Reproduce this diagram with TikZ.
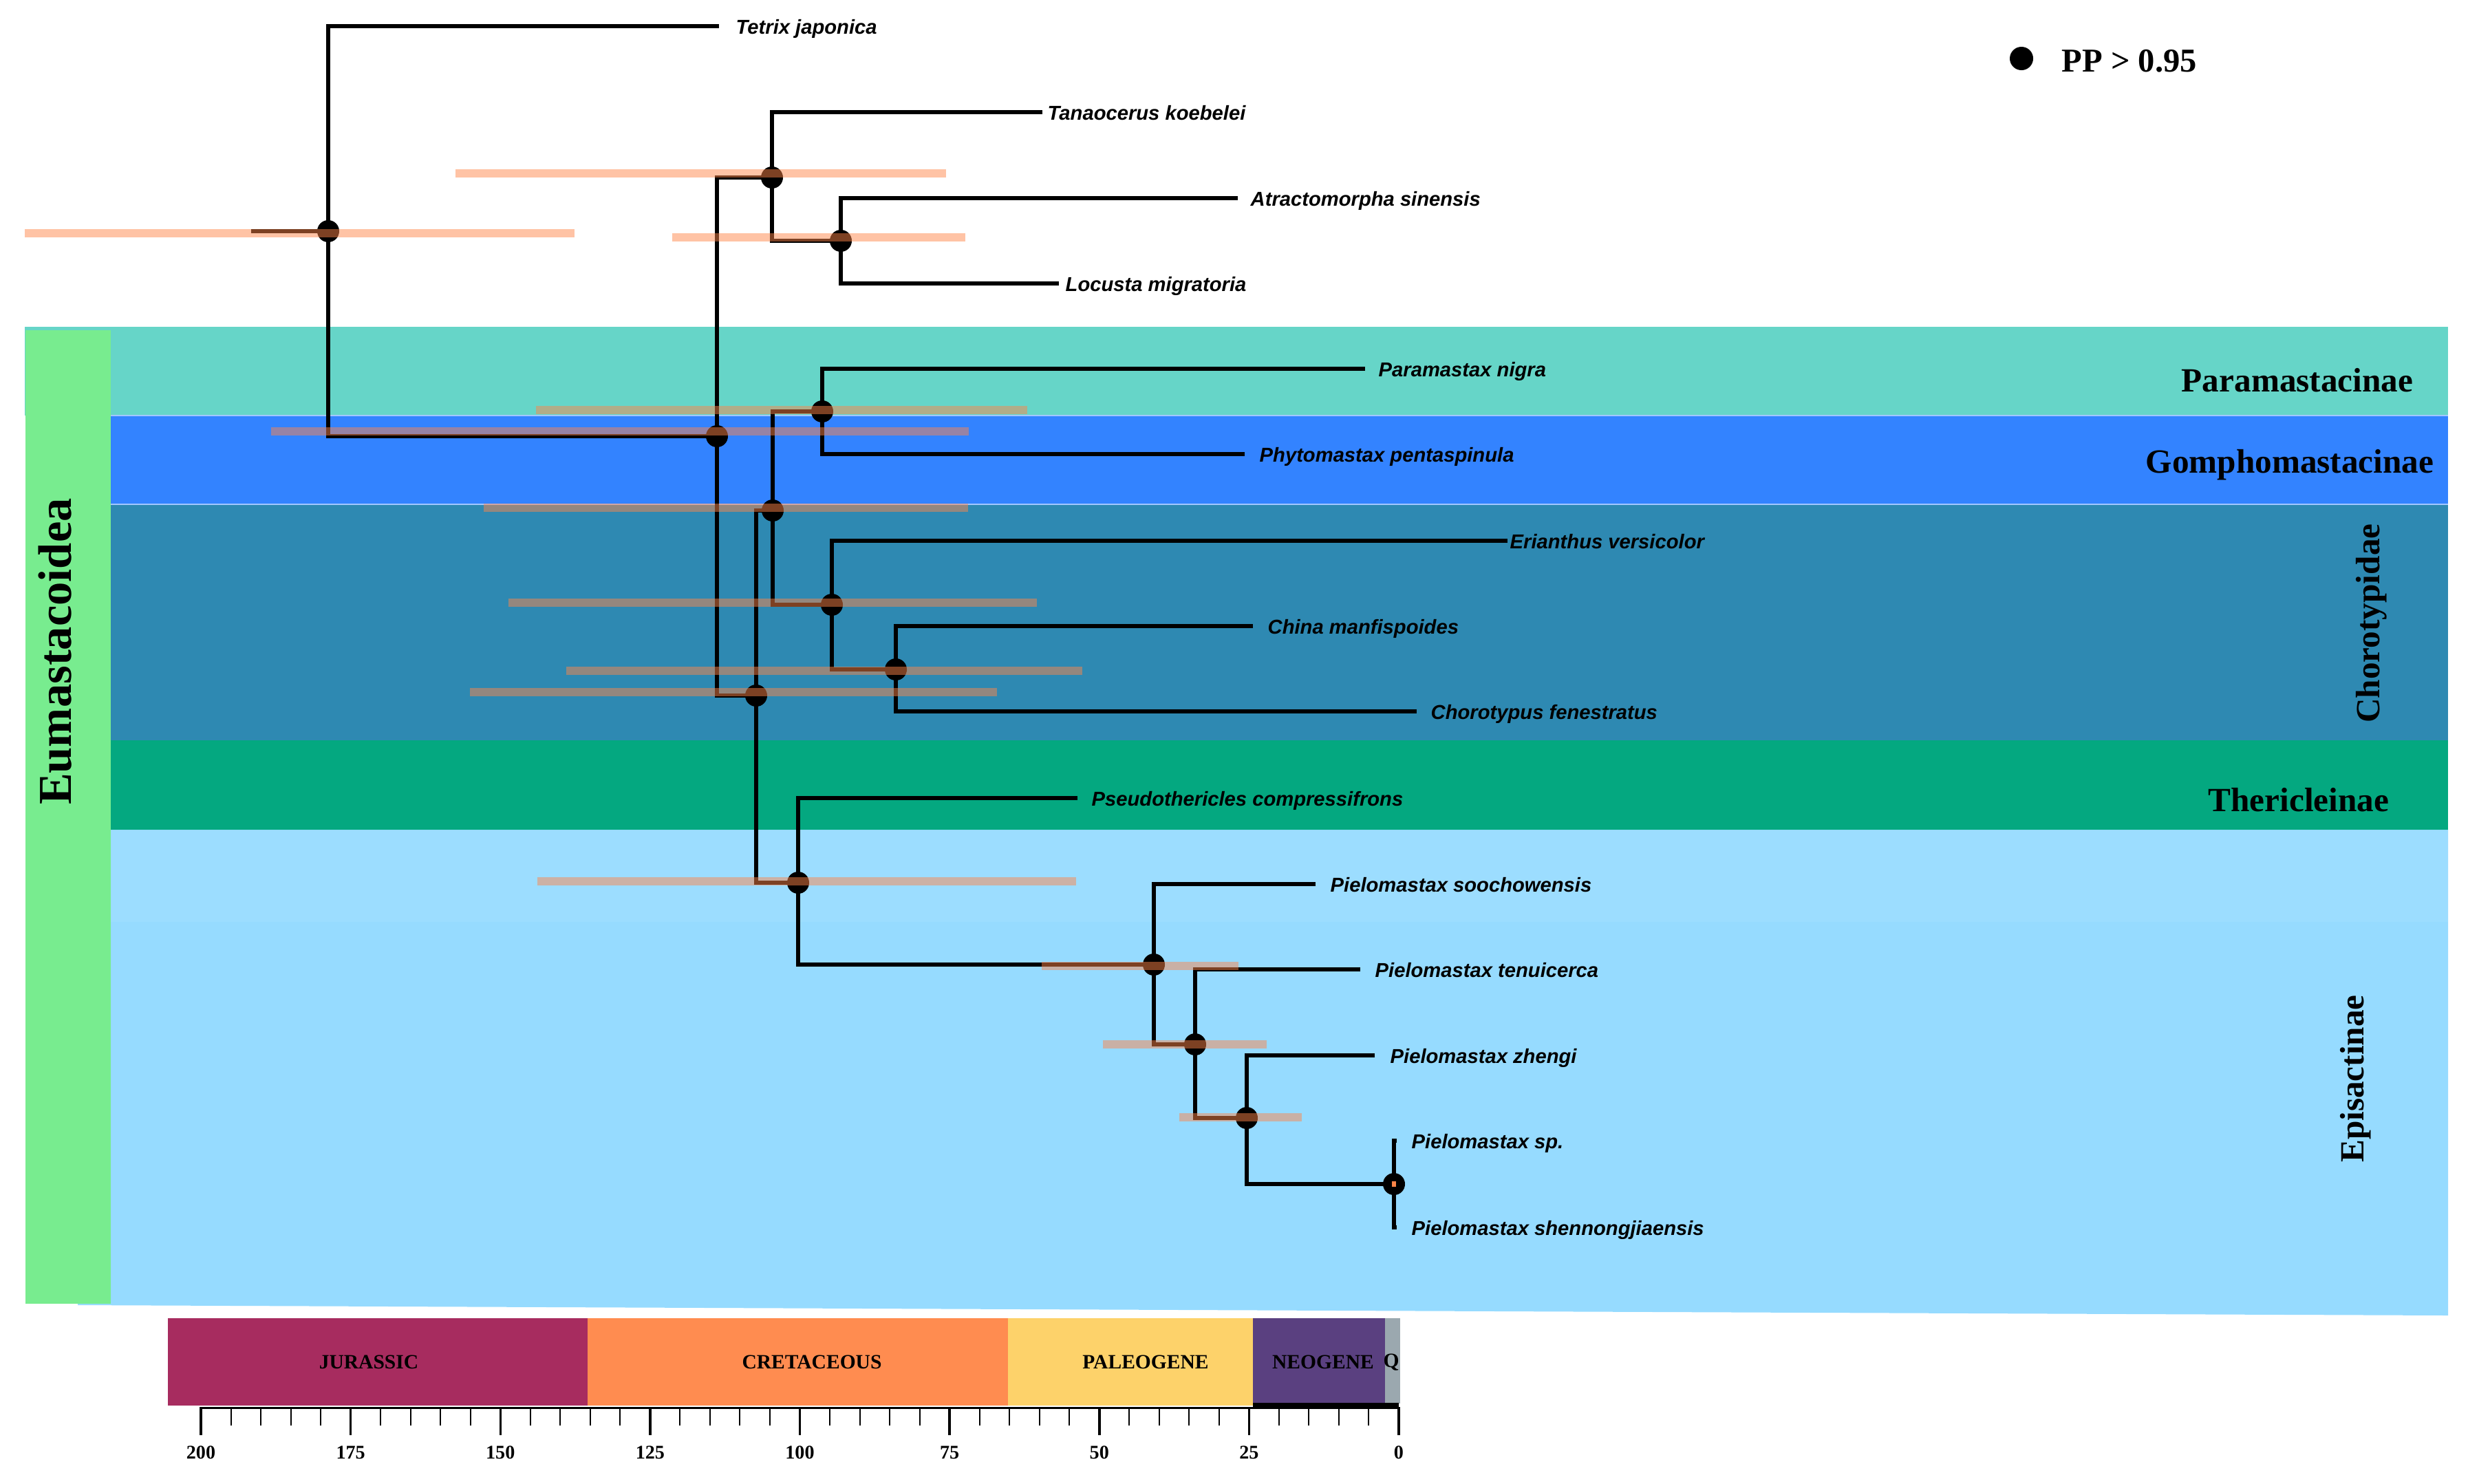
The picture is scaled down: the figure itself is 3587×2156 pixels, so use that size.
\documentclass[tikz,border=0pt]{standalone}
\usepackage{fontspec}
\setmainfont{Liberation Serif}
\setsansfont{Liberation Sans}

\definecolor{para}{HTML}{66D5C8}
\definecolor{gompho}{HTML}{3383FF}
\definecolor{choro}{HTML}{2E89B2}
\definecolor{theri}{HTML}{04A880}
\definecolor{epis}{HTML}{96DBFF}
\definecolor{eumas}{HTML}{78EC8F}
\definecolor{hpdc}{RGB}{255,133,72}
\definecolor{jur}{HTML}{A72C5F}
\definecolor{cret}{HTML}{FF8C50}
\definecolor{paleo}{HTML}{FDD26A}
\definecolor{neo}{HTML}{5A4080}
\definecolor{quat}{HTML}{9BA8AF}

\begin{document}
\begin{tikzpicture}[x=0.01cm,y=-0.01cm,
  branch/.style={line width=1.7pt,black},
  hpd/.style={line width=0.12cm,hpdc,opacity=.49},
  pp/.style={fill=black},
  tiplab/.style={anchor=base west,inner sep=0pt,font=\sffamily\bfseries\itshape\fontsize{8.3}{10}\selectfont},
  cladelab/.style={inner sep=0pt,font=\bfseries\fontsize{14}{16}\selectfont},
  period/.style={inner sep=0pt,font=\bfseries\fontsize{8.4}{10}\selectfont}]

\useasboundingbox (0,0) rectangle (3587,2156);

% clade bands
\fill[para] (36,475) rectangle (3558,604);
\fill[gompho] (161,604) rectangle (3558,733);
\fill[choro] (161,733) rectangle (3558,1076);
\fill[theri] (161,1076) rectangle (3558,1206);
\fill[epis] (113,1206) -- (3558,1206) -- (3558,1912) -- (113,1897) -- cycle;
\fill[white!6!epis] (161,1207) rectangle (3558,1340);
\draw[line width=0.02cm,white!55!gompho] (161,604) -- (3558,604);
\draw[line width=0.02cm,white!55!gompho] (161,733) -- (3558,733);
\fill[eumas] (37,480) rectangle (161,1895);
\node[rotate=90,inner sep=0pt,font=\bfseries\fontsize{19.5}{22}\selectfont] (eumas) at (80,947) {Eumastacoidea};

\node[cladelab] (para) at (3339,553) {Paramastacinae};
\node[cladelab] (gompho) at (3328,676) {Gomphomastacinae};
\node[cladelab,rotate=90] (choro) at (3447,906) {Chorotypidae};
\node[cladelab] (theri) at (3341,1163) {Thericleinae};
\node[cladelab,rotate=90] (epis) at (3424,1568) {Episactinae};

% legend
\fill[pp] (2938,85) circle (0.17cm);
\node[anchor=base west,inner sep=0pt,font=\bfseries\fontsize{13.8}{16}\selectfont] (pplab) at (2996,104) {PP > 0.95};

% internal nodes
\coordinate (nR) at (477,336);
\coordinate (stem) at (365,336);
\coordinate (nA) at (1042,634);
\coordinate (nB) at (1122,258);
\coordinate (nC) at (1222,350);
\coordinate (nD) at (1099,1011);
\coordinate (nE) at (1123,742);
\coordinate (nF) at (1195,598);
\coordinate (nG) at (1209,879);
\coordinate (nH) at (1302,973);
\coordinate (nI) at (1160,1283);
\coordinate (nJ) at (1677,1402);
\coordinate (nK) at (1737,1518);
\coordinate (nL) at (1812,1625);
\coordinate (nM) at (2026,1721);

% tips
\coordinate (t1) at (1045,38);
\coordinate (t2) at (1515,163);
\coordinate (t3) at (1799,288);
\coordinate (t4) at (1539,412);
\coordinate (t5) at (1984,536);
\coordinate (t6) at (1809,660);
\coordinate (t7) at (2191,786);
\coordinate (t8) at (1821,910);
\coordinate (t9) at (2059,1034);
\coordinate (t10) at (1566,1160);
\coordinate (t11) at (1912,1285);
\coordinate (t12) at (1977,1409);
\coordinate (t13) at (1998,1534);
\coordinate (t14) at (2030,1658);
\coordinate (t15) at (2030,1784);

\node[tiplab] (l1) at (1069,49) {Tetrix japonica};
\node[tiplab] (l2) at (1522,174) {Tanaocerus koebelei};
\node[tiplab] (l3) at (1817,299) {Atractomorpha sinensis};
\node[tiplab] (l4) at (1548,423) {Locusta migratoria};
\node[tiplab] (l5) at (2003,547) {Paramastax nigra};
\node[tiplab] (l6) at (1830,671) {Phytomastax pentaspinula};
\node[tiplab] (l7) at (2194,797) {Erianthus versicolor};
\node[tiplab] (l8) at (1842,921) {China manfispoides};
\node[tiplab] (l9) at (2079,1045) {Chorotypus fenestratus};
\node[tiplab] (l10) at (1586,1171) {Pseudothericles compressifrons};
\node[tiplab] (l11) at (1933,1296) {Pielomastax soochowensis};
\node[tiplab] (l12) at (1998,1420) {Pielomastax tenuicerca};
\node[tiplab] (l13) at (2020,1545) {Pielomastax zhengi};
\node[tiplab] (l14) at (2051,1669) {Pielomastax sp.};
\node[tiplab] (l15) at (2051,1795) {Pielomastax shennongjiaensis};

% tree
\draw[branch] (nR) -- (stem);
\draw[branch] (t1) -| (nR) |- (nA);
\draw[branch] (nB) -| (nA) |- (nD);
\draw[branch] (t2) -| (nB) |- (nC);
\draw[branch] (t3) -| (nC) |- (t4);
\draw[branch] (nE) -| (nD) |- (nI);
\draw[branch] (nF) -| (nE) |- (nG);
\draw[branch] (t5) -| (nF) |- (t6);
\draw[branch] (t7) -| (nG) |- (nH);
\draw[branch] (t8) -| (nH) |- (t9);
\draw[branch] (t10) -| (nI) |- (nJ);
\draw[branch] (t11) -| (nJ) |- (nK);
\draw[branch] (t12) -| (nK) |- (nL);
\draw[branch] (t13) -| (nL) |- (nM);
\draw[branch] (t14) -| (nM) |- (t15);

\foreach \n in {nR,nA,nB,nC,nD,nE,nF,nG,nH,nI,nJ,nK,nL,nM}
  \fill[pp] (\n) circle (0.16cm);

% 95% HPD bars
\foreach \y/\a/\b in {339/36/835, 252/662/1375, 345/977/1403, 596/779/1493,
  627/394/1408, 738/703/1407, 876/739/1507, 975/823/1573, 1006/683/1449,
  1281/781/1564, 1404/1514/1800, 1518/1603/1841, 1624/1714/1892}
  \draw[hpd] (\a,\y) -- (\b,\y);
\fill[hpdc] (2023,1717) rectangle (2029,1725);

% geological time scale
\fill[jur] (244,1916) rectangle (854,2043);
\fill[cret] (854,1916) rectangle (1465,2043);
\fill[paleo] (1465,1916) rectangle (1821,2043);
\fill[neo] (1821,1916) rectangle (2013,2040);
\fill[quat] (2013,1916) rectangle (2035,2040);
\node[period] (jurl) at (536,1980) {JURASSIC};
\node[period] (cretl) at (1180,1980) {CRETACEOUS};
\node[period] (paleol) at (1665,1980) {PALEOGENE};
\node[period] (neol) at (1923,1980) {NEOGENE};
\node[period] (quatl) at (2022,1980) {Q};

\fill (1821,2039) rectangle (2033,2047);
\draw[line width=0.03cm] (290,2046) -- (2035,2046);
\foreach \a in {0,5,...,200}
  \draw[line width=0.02cm] ({2033-8.705*\a},2046) -- ++(0,26);
\foreach \a in {0,25,...,200} {
  \draw[line width=0.035cm] ({2033-8.705*\a},2046) -- ++(0,40);
  \node[font=\bfseries\fontsize{8}{9}\selectfont,inner sep=0pt] at ({2033-8.705*\a},2111) {\a};
}
\end{tikzpicture}
\end{document}
